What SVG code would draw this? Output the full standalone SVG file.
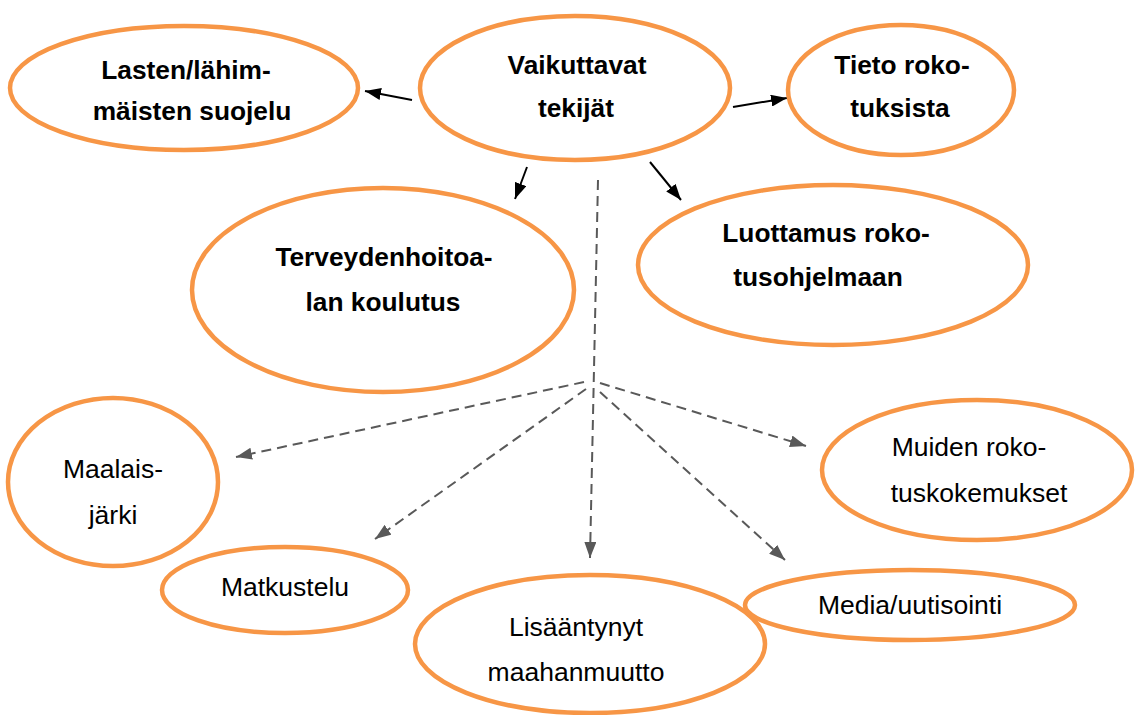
<svg xmlns="http://www.w3.org/2000/svg" width="1135" height="715" viewBox="0 0 1135 715">
<style>
.n{fill:#fff;stroke:#F79646;stroke-width:4.5}
.b{font-family:"Liberation Sans",Arial,sans-serif;font-size:26.3px;font-weight:bold;fill:#000;text-anchor:middle}
.r{font-family:"Liberation Sans",Arial,sans-serif;font-size:26.5px;fill:#000;text-anchor:middle}
.s{stroke:#000;stroke-width:2;fill:none;marker-end:url(#ah)}
.d{stroke:#595959;stroke-width:2;fill:none;stroke-dasharray:10 6;marker-end:url(#ad)}
</style>
<defs>
<marker id="ah" viewBox="0 0 16 12" refX="16" refY="6" markerWidth="16" markerHeight="12" markerUnits="userSpaceOnUse" orient="auto"><path d="M0,0 L16,6 L0,12 z" fill="#000"/></marker>
<marker id="ad" viewBox="0 0 16 12" refX="16" refY="6" markerWidth="16" markerHeight="12" markerUnits="userSpaceOnUse" orient="auto"><path d="M0,0 L16,6 L0,12 z" fill="#595959"/></marker>
</defs>
<rect width="1135" height="715" fill="#fff"/>
<g id="connectors">
<line class="s" x1="412" y1="100" x2="365" y2="91"/>
<line class="s" x1="733" y1="107" x2="787" y2="98"/>
<line class="s" x1="527" y1="167" x2="515" y2="199"/>
<line class="s" x1="650" y1="162" x2="681" y2="200"/>
<line class="d" x1="598" y1="180" x2="590" y2="558"/>
<line class="d" x1="584" y1="382" x2="236" y2="457"/>
<line class="d" x1="586" y1="389" x2="375" y2="539"/>
<line class="d" x1="600" y1="392" x2="785" y2="560"/>
<line class="d" x1="600" y1="383" x2="806" y2="446"/>
</g>
<g id="n1"><ellipse class="n" cx="184" cy="88" rx="174" ry="62"/><text class="b" x="186" y="79">Lasten/lähim-</text><text class="b" x="192" y="120">mäisten suojelu</text></g>
<g id="n2"><ellipse class="n" cx="575" cy="88" rx="155" ry="72"/><text class="b" x="577" y="74">Vaikuttavat</text><text class="b" x="576" y="117">tekijät</text></g>
<g id="n3"><ellipse class="n" cx="901" cy="90" rx="113" ry="65"/><text class="b" x="902" y="74">Tieto roko-</text><text class="b" x="900" y="117">tuksista</text></g>
<g id="n4"><ellipse class="n" cx="383" cy="290" rx="191" ry="102"/><text class="b" x="384" y="266">Terveydenhoitoa-</text><text class="b" x="383" y="311">lan koulutus</text></g>
<g id="n5"><ellipse class="n" cx="833" cy="265" rx="195" ry="80"/><text class="b" x="826" y="242">Luottamus roko-</text><text class="b" x="818" y="286">tusohjelmaan</text></g>
<g id="n6"><ellipse class="n" cx="113" cy="482" rx="105" ry="84"/><text class="r" x="113" y="478">Maalais-</text><text class="r" x="113" y="524">järki</text></g>
<g id="n7"><ellipse class="n" cx="285" cy="590" rx="123" ry="43"/><text class="r" x="285" y="596">Matkustelu</text></g>
<g id="n8"><ellipse class="n" cx="590" cy="644" rx="175" ry="69"/><text class="r" x="576" y="636">Lisääntynyt</text><text class="r" x="576" y="681">maahanmuutto</text></g>
<g id="n9"><ellipse class="n" cx="910" cy="605" rx="165" ry="35"/><text class="r" x="910" y="614">Media/uutisointi</text></g>
<g id="n10"><ellipse class="n" cx="977" cy="470" rx="155" ry="70"/><text class="r" x="969" y="456">Muiden roko-</text><text class="r" x="979" y="502">tuskokemukset</text></g>
</svg>
